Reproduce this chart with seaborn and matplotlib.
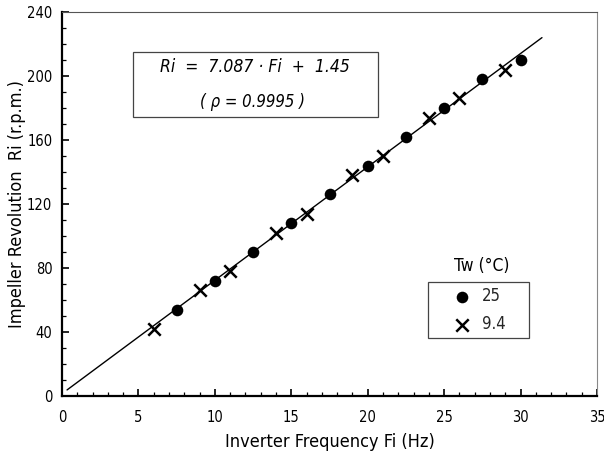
import numpy as np
import pandas as pd
import matplotlib
matplotlib.use("Agg")
import matplotlib.pyplot as plt
import seaborn as sns
from matplotlib.ticker import MultipleLocator

# Data
fi_25 = [7.5, 10, 12.5, 15, 17.5, 20, 22.5, 25, 27.5, 30]
ri_25 = [54, 72, 90, 108, 126, 144, 162, 180, 198, 210]
fi_94 = [6, 9, 11, 14, 16, 19, 21, 24, 26, 29]
ri_94 = [42, 66, 78, 102, 114, 138, 150, 174, 186, 204]
slope = 7.087
intercept = 1.45
fit_range = [0.33, 31.4]
series_labels = ["25", "9.4"]

sns.set_theme(style="white")
plt.rcParams['font.family'] = ['DejaVu Sans']
plt.rcParams['font.stretch'] = 'condensed'

W, H = 604, 461
fig = plt.figure(figsize=(6.04, 4.61), dpi=100)
ax = fig.add_axes([62 / W, 1 - 396 / H, 535 / W, 384 / H])

df25 = pd.DataFrame({"Fi": fi_25, "Ri": ri_25})
df94 = pd.DataFrame({"Fi": fi_94, "Ri": ri_94})
fit = pd.DataFrame({"Fi": fit_range,
                    "Ri": [slope * f + intercept for f in fit_range]})

sns.lineplot(data=fit, x="Fi", y="Ri", ax=ax, color="black", lw=1.0, zorder=2)
sns.scatterplot(data=df25, x="Fi", y="Ri", ax=ax, marker="o", color="black",
                s=70, edgecolor="black", linewidth=0, zorder=3, label=series_labels[0])
sns.scatterplot(data=df94, x="Fi", y="Ri", ax=ax, marker="x", color="black",
                s=80, linewidth=1.8, zorder=3, label=series_labels[1])

ax.set_xlim(0, 35)
ax.set_ylim(0, 240)
ax.xaxis.set_major_locator(MultipleLocator(5))
ax.xaxis.set_minor_locator(MultipleLocator(1))
ax.yaxis.set_major_locator(MultipleLocator(40))
ax.yaxis.set_minor_locator(MultipleLocator(10))
ax.tick_params(which="both", direction="in", left=True, bottom=True,
               top=False, right=False, color="black", labelsize=10.5,
               labelcolor="black")
ax.tick_params(axis="x", pad=10)
ax.tick_params(axis="y", pad=7)
ax.tick_params(which="major", length=5, width=1.2)
ax.tick_params(which="minor", length=3, width=0.9)
ax.spines["left"].set_color("black")
ax.spines["left"].set_linewidth(1.6)
ax.spines["bottom"].set_color("black")
ax.spines["bottom"].set_linewidth(1.6)
ax.spines["top"].set_color("#555555")
ax.spines["top"].set_linewidth(0.8)
ax.spines["right"].set_color("#888888")
ax.spines["right"].set_linewidth(0.8)

ax.set_xlabel("Inverter Frequency Fi (Hz)", fontsize=13, color="black", labelpad=6)
ax.set_ylabel("Impeller Revolution  Ri (r.p.m.)", fontsize=13, color="black", labelpad=1)

# equation box
eq_box = matplotlib.patches.Rectangle((133, H - 117), 245, 65, transform=None,
                                      fill=False, edgecolor="#444444", lw=0.9, zorder=4)
ax.add_artist(eq_box)
ax.text(255 / W, 1 - 67 / H, "Ri  =  7.087 · Fi  +  1.45", transform=fig.transFigure,
        ha="center", va="center", style="italic", fontsize=12.5, color="black")
ax.text(253 / W, 1 - 102 / H, "( ρ = 0.9995 )", transform=fig.transFigure,
        ha="center", va="center", style="italic", fontsize=12, color="black")

# legend (entries), frame drawn as a rectangle
leg = ax.legend(loc="upper left", bbox_to_anchor=(454 / W, 1 - 287 / H),
                bbox_transform=fig.transFigure, frameon=False, fontsize=12,
                handletextpad=0.7, borderpad=0, labelspacing=0.62,
                handlelength=1.0, borderaxespad=0)
leg_box = matplotlib.patches.Rectangle((428, H - 338), 101, 56, transform=None,
                                       fill=False, edgecolor="#444444", lw=0.9, zorder=4)
ax.add_artist(leg_box)
ax.text(482 / W, 1 - 266 / H, "Tw (°C)", transform=fig.transFigure, ha="center",
        va="center", fontsize=12.5, color="black")

fig.savefig("out.png", dpi=100)
